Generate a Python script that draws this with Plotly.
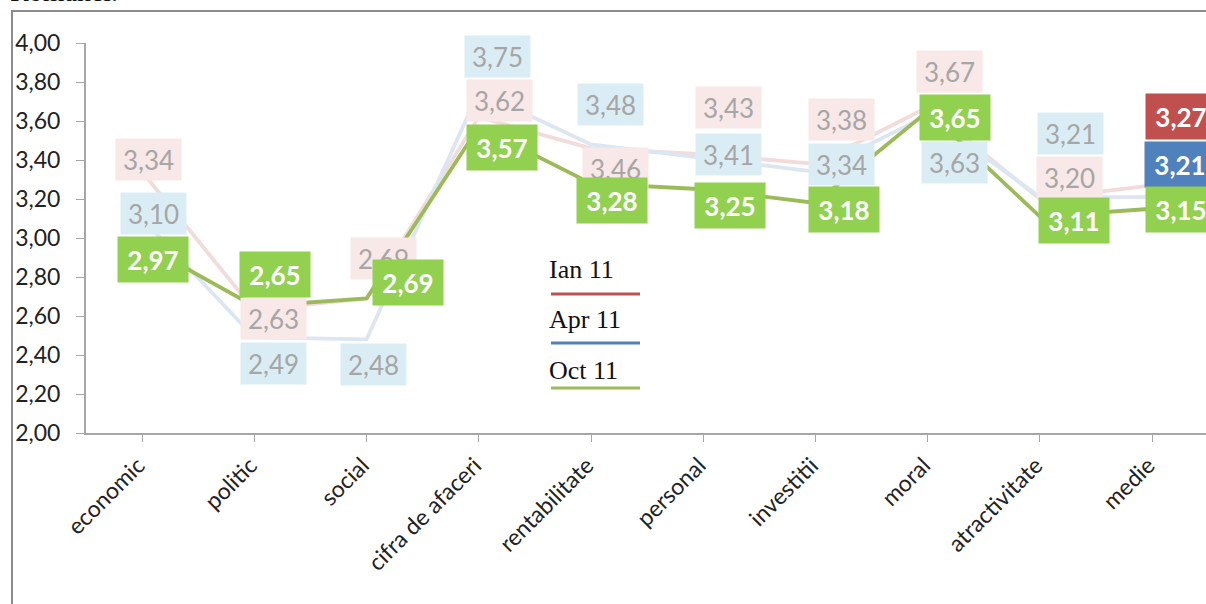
import plotly.graph_objects as go

categories = ["economic", "politic", "social", "cifra de afaceri", "rentabilitate",
              "personal", "investitii", "moral", "atractivitate", "medie"]
ian_11 = [3.34, 2.63, 2.69, 3.62, 3.46, 3.43, 3.38, 3.67, 3.20, 3.27]
apr_11 = [3.10, 2.49, 2.48, 3.75, 3.48, 3.41, 3.34, 3.63, 3.21, 3.21]
oct_11 = [2.97, 2.65, 2.69, 3.57, 3.28, 3.25, 3.18, 3.65, 3.11, 3.15]
series_names = ["Ian 11", "Apr 11", "Oct 11"]
y_ticks = [2.0, 2.2, 2.4, 2.6, 2.8, 3.0, 3.2, 3.4, 3.6, 3.8, 4.0]

# label offsets (pixels: right, down) from each point, for styling only
ian_off = [(6, -12), (19, 8), (17, -40), (21, -17), (24, 20), (25, -47), (26, -44), (22, -36), (30, -22), (29, -69)]
apr_off = [(11, -5), (19, 26), (7, 25), (19, -35), (19, -40), (25, -4), (26, -7), (27, 47), (31, -64), (28, -33)]
oct_off = [(11, 16), (21, -32), (41, -16), (23, 21), (21, 17), (27, 16), (29, 7), (27, 6), (34, 4), (29, 1)]

RED, BLUE, GREEN = "#c0504d", "#4f81bd", "#9bbb59"
PINK_LINE, BLUE_LINE = "#f2dcdb", "#dce6f2"
PINK_BOX, BLUE_BOX, GREEN_BOX = "#f8e8e8", "#dbedf4", "#92d050"

W, H = 1206, 604
L, R, T, B = 86, 0, 43, 171
PW, PH = W - L - R, H - T - B

def px(x):
    return (x - L) / PW

def py(y):
    return (T + PH - y) / PH

def fmt(v):
    return f"{v:.2f}".replace(".", ",")

x_idx = list(range(len(categories)))

fig = go.Figure()
for vals, col, name in [(ian_11, PINK_LINE, series_names[0]),
                        (apr_11, BLUE_LINE, series_names[1]),
                        (oct_11, GREEN, series_names[2])]:
    fig.add_trace(go.Scatter(x=x_idx, y=vals, mode="lines", name=name,
                             line=dict(color=col, width=3.8), showlegend=False,
                             hoverinfo="skip"))

annotations = []

def add_labels(vals, offs, bg, fontcol, bold, last_bg=None):
    n = len(vals)
    for i, (v, (dx, dy)) in enumerate(zip(vals, offs)):
        box = bg
        fc = fontcol
        b = bold
        if last_bg is not None and i == n - 1:
            box = last_bg
            fc = "white"
            b = True
        txt = f"<b>{fmt(v)}</b>" if b else fmt(v)
        annotations.append(dict(
            x=i, y=v, xref="x", yref="y", text=txt, showarrow=False,
            xanchor="center", yanchor="middle", xshift=dx, yshift=-dy,
            bgcolor=box, borderpad=2, width=66 if b else 61, height=41 if b else 37,
            font=dict(family="Lato", size=26, color=fc)))

add_labels(ian_11, ian_off, PINK_BOX, "#a6a6a6", False, last_bg=RED)
add_labels(apr_11, apr_off, BLUE_BOX, "#a6a6a6", False, last_bg=BLUE)
add_labels(oct_11, oct_off, GREEN_BOX, "white", True, last_bg=GREEN_BOX)

# custom legend: text above a line sample
shapes = []
leg_text_y = [269, 319, 370]
leg_line_y = [294, 343, 388]
for name, col, ty, ly in zip(series_names, [RED, BLUE, GREEN], leg_text_y, leg_line_y):
    annotations.append(dict(x=px(547), y=py(ty), xref="paper", yref="paper", text=name,
                            showarrow=False, xanchor="left", yanchor="middle",
                            font=dict(family="Liberation Serif", size=26, color="#111")))
    shapes.append(dict(type="line", xref="paper", yref="paper", x0=px(551), x1=px(640),
                       y0=py(ly), y1=py(ly), line=dict(color=col, width=3)))

# chart area border (partially visible)
shapes.append(dict(type="line", xref="paper", yref="paper", x0=px(12), x1=px(12),
                   y0=py(10), y1=py(620), line=dict(color="#8c8c8c", width=2)))
shapes.append(dict(type="line", xref="paper", yref="paper", x0=px(11), x1=px(1220),
                   y0=py(11), y1=py(11), line=dict(color="#8c8c8c", width=2)))

# cropped heading text above the chart
annotations.append(dict(x=px(8), y=py(9), xref="paper", yref="paper", text="Romanei.",
                        showarrow=False, xanchor="left", yanchor="bottom",
                        font=dict(family="Liberation Serif", size=28, color="#111")))

fig.update_layout(
    width=W, height=H, margin=dict(l=L, r=R, t=T, b=B, pad=0),
    paper_bgcolor="white", plot_bgcolor="white",
    separators=",.",
    annotations=annotations, shapes=shapes, showlegend=False,
    xaxis=dict(tickmode="array", tickvals=x_idx, ticktext=categories,
               range=[-0.5, len(categories) - 0.52], tickangle=-45, tickson="boundaries",
               ticks="outside", ticklen=7, tickcolor="#a6a6a6", showline=True,
               linecolor="#a6a6a6", linewidth=2, showgrid=False, zeroline=False,
               automargin=False, ticklabelstandoff=1, ticklabelshift=-4,
               tickfont=dict(family="Lato", size=23, color="#222")),
    yaxis=dict(range=[2, 4], tickvals=y_ticks, tickformat=".2f", ticks="outside",
               ticklen=8, tickcolor="#a6a6a6", showline=True, linecolor="#a6a6a6",
               linewidth=2, showgrid=False, zeroline=False, automargin=False,
               ticklabelstandoff=11,
               tickfont=dict(family="Lato", size=23, color="#222")),
)

fig.write_html("out.html", config={"displayModeBar": False},
               post_script="document.body.style.margin='0';document.body.style.overflow='hidden';")
